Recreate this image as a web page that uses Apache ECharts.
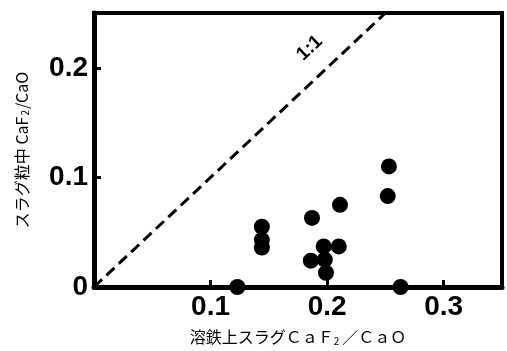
<!DOCTYPE html>
<html><head><meta charset="utf-8">
<script src="https://cdn.jsdelivr.net/npm/echarts@6/dist/echarts.min.js"></script>
<style>html,body{margin:0;padding:0;background:#fff}#c{width:507px;height:351px}</style>
</head><body><div id="c"></div>
<script>
const slagSurfaceRatio = [0.123, 0.144, 0.144, 0.144, 0.187, 0.211, 0.197, 0.210, 0.186, 0.198, 0.199, 0.253, 0.252, 0.263];
const slagParticleRatio = [0.000, 0.055, 0.043, 0.036, 0.063, 0.075, 0.037, 0.037, 0.024, 0.025, 0.013, 0.110, 0.083, 0.000];
const xTickLabels = ['0.1', '0.2', '0.3'];
const yTickLabels = ['0', '0.1', '0.2'];
const lineOneToOne = [[0, 0], [0.25, 0.25]];
const lineLabel = '1:1';

const chart = echarts.init(document.getElementById('c'));
const tickFont = {fontFamily: '"Liberation Sans Narrow","Liberation Sans",sans-serif', fontWeight: 'bold', fontSize: 28, color: '#000'};
function fmt(list){ return v => { const s = (Math.round(v*10)/10).toString(); return (Math.abs(v*10 - Math.round(v*10))<1e-6 && list.includes(s)) ? s : ''; }; }
chart.setOption({
  animation: false,
  grid: {left: 94, right: 5, top: 13, bottom: 58, show: true, borderColor: '#000', borderWidth: 4},
  xAxis: {
    type: 'value', min: 0, max: 0.35, interval: 0.1,
    splitLine: {show: false},
    axisLine: {lineStyle: {color: '#000', width: 5}},
    axisTick: {inside: true, length: 7, lineStyle: {color: '#000', width: 3}},
    axisLabel: Object.assign({margin: 6, formatter: fmt(xTickLabels)}, tickFont),
    name: '{a|溶鉄上スラグＣａＦ}{s|2}{a|／ＣａＯ}', nameLocation: 'middle', nameGap: 41,
    nameTextStyle: {rich: {a: {fontFamily: '"Noto Sans CJK JP"', fontSize: 16, color: '#000'}, s: {fontFamily: '"Noto Sans CJK JP"', fontSize: 10, color: '#000', verticalAlign: 'bottom', padding: [8, 3, 0, 0]}}}
  },
  yAxis: {
    type: 'value', min: 0, max: 0.25, interval: 0.1,
    splitLine: {show: false},
    axisLine: {lineStyle: {color: '#000', width: 5}},
    axisTick: {inside: true, length: 7, lineStyle: {color: '#000', width: 3}},
    axisLabel: Object.assign({margin: 6, formatter: fmt(yTickLabels)}, tickFont),
    name: '{a|スラグ粒中 CaF}{s|2}{a|/CaO}', nameLocation: 'middle', nameGap: 64,
    nameTextStyle: {rich: {a: {fontFamily: '"Noto Sans CJK JP"', fontSize: 16, color: '#000'}, s: {fontFamily: '"Noto Sans CJK JP"', fontSize: 10, color: '#000', verticalAlign: 'bottom', padding: [6, 1, 0, 1]}}}
  },
  series: [
    {type: 'line', data: lineOneToOne, symbol: 'none', lineStyle: {color: '#000', width: 3, type: [11, 6]}, silent: true},
    {type: 'scatter', data: slagSurfaceRatio.map((x, i) => [x, slagParticleRatio[i]]), symbolSize: 16, itemStyle: {color: '#000', opacity: 1}}
  ]
});
const p = chart.convertToPixel({gridIndex: 0}, [0.185, 0.218]);
const p0 = chart.convertToPixel({gridIndex: 0}, [0, 0]);
const p1 = chart.convertToPixel({gridIndex: 0}, [0.25, 0.25]);
const ang = Math.atan2(p0[1] - p1[1], p1[0] - p0[0]);
chart.setOption({graphic: [{type: 'text', x: p[0], y: p[1], rotation: ang, style: {text: lineLabel, font: 'bold 19px "Liberation Sans", sans-serif', fill: '#000', align: 'center', verticalAlign: 'middle'}}]});
</script></body></html>
